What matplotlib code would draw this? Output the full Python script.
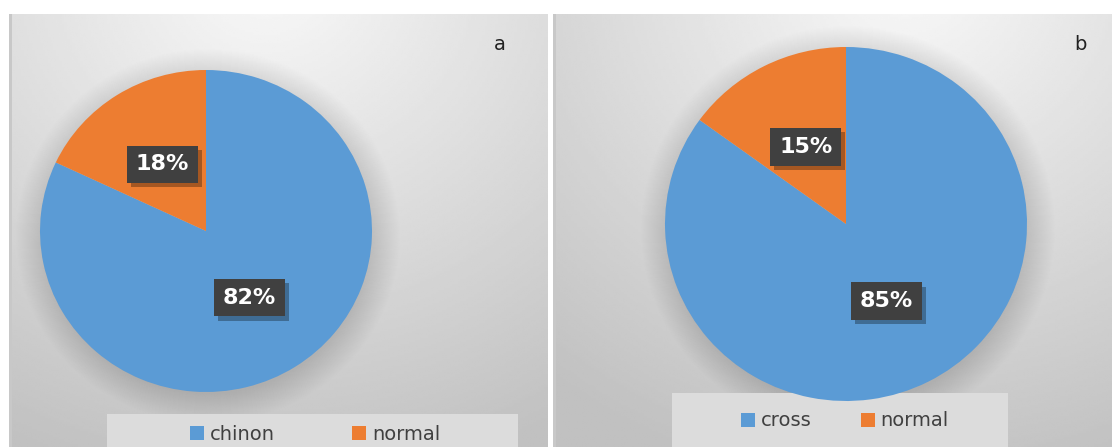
import matplotlib
matplotlib.use("Agg")
import matplotlib.pyplot as plt
import matplotlib.patheffects as pe
from matplotlib.patches import Rectangle, Ellipse
import numpy as np

W, H = 1112, 447

# data
labels_a = ["chinon", "normal"]
values_a = [82, 18]
labels_b = ["cross", "normal"]
values_b = [85, 15]
colors = ["#5B9BD5", "#ED7D31"]

# panel layouts in pixels (x0, y0, x1, y1), pie centre/radii, legend
PANELS = [
    dict(box=(9, 14, 548, 447), centre=(206, 231), r=(166, 161),
         legend_box=(107, 414, 518, 452), legend_c=(315, 434), colsp=4.0,
         letter="a", letter_xy=(500, 44), labels=labels_a, values=values_a),
    dict(box=(553, 14, 1112, 447), centre=(846, 224), r=(181, 177),
         legend_box=(672, 393, 1008, 452), legend_c=(845, 421), colsp=2.5,
         letter="b", letter_xy=(1080, 45), labels=labels_b, values=values_b),
]


def px_rect(x0, y0, x1, y1):
    return [x0 / W, 1 - y1 / H, (x1 - x0) / W, (y1 - y0) / H]


fig = plt.figure(figsize=(W / 100, H / 100), dpi=100)
fig.patch.set_facecolor("white")

for p in PANELS:
    x0, y0, x1, y1 = p["box"]
    bg = fig.add_axes(px_rect(x0, y0, x1, y1))
    # soft grey gradient like the office chart area
    xs = np.linspace(x0, x1, 200)
    ys = np.linspace(y0, y1, 200)
    gx, gy = np.meshgrid(xs, ys)
    cx = p["centre"][0] + 60
    d = np.hypot((gx - cx) / 1.1, gy - y0 + 40) / 520
    shade = 0.975 - 0.22 * np.clip(d, 0, 1)
    bg.imshow(shade, cmap="gray", vmin=0, vmax=1, extent=(x0, x1, y1, y0),
              aspect="auto", interpolation="bilinear")
    bg.set_xlim(x0, x1)
    bg.set_ylim(y1, y0)
    bg.axis("off")
    bg.add_patch(Rectangle((x0, y0), 3, y1 - y0, color="#c8c8c8", lw=0))

    # soft shadow behind the pie
    ccx, ccy = p["centre"]
    rx, ry = p["r"]
    for k in range(30):
        bg.add_patch(Ellipse((ccx + 2, ccy + 5), 2 * (rx + 26 - k), 2 * (ry + 26 - k),
                             color="black", alpha=0.005, lw=0))

    pie_ax = fig.add_axes(px_rect(ccx - rx, ccy - ry, ccx + rx, ccy + ry))
    wedges, _, autotexts = pie_ax.pie(
        p["values"], colors=colors, startangle=90, counterclock=False,
        autopct="%1.0f%%", pctdistance=0.49,
        wedgeprops=dict(linewidth=0),
        textprops=dict(color="white", fontsize=16, fontweight="bold"),
    )
    pie_ax.set_aspect("auto")
    pie_ax.set_xlim(-1, 1)
    pie_ax.set_ylim(-1, 1)
    pie_ax.axis("off")
    for t in autotexts:
        t.set_bbox(dict(boxstyle="square,pad=0.4", facecolor="#404040", edgecolor="none"))
        t.get_bbox_patch().set_path_effects(
            [pe.SimplePatchShadow(offset=(3, -3), shadow_rgbFace="black", alpha=0.3),
             pe.Normal()])

    lx0, ly0, lx1, ly1 = p["legend_box"]
    bg.add_patch(Rectangle((lx0, ly0), lx1 - lx0, ly1 - ly0, color="#dcdcdc", lw=0, zorder=3))
    leg = bg.legend(wedges, p["labels"], loc="center", ncol=2, frameon=False,
                    bbox_to_anchor=p["legend_c"], bbox_transform=bg.transData,
                    fontsize=14, handlelength=0.72, handleheight=0.72,
                    handletextpad=0.3, columnspacing=p["colsp"], borderpad=0)
    leg.set_zorder(4)
    for t in leg.get_texts():
        t.set_color("#404040")

    bg.text(*p["letter_xy"], p["letter"], fontsize=14, color="#222222",
            ha="center", va="center", zorder=5)

fig.savefig("out.png", dpi=100)
